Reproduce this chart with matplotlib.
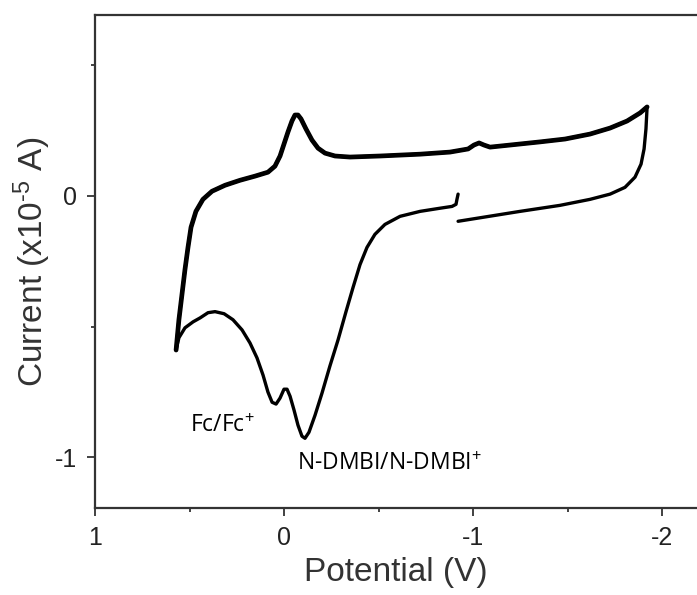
import matplotlib
matplotlib.use("Agg")
import matplotlib.pyplot as plt
from matplotlib.ticker import MultipleLocator

# Potential (V) and current (x1e-5 A)
# cathodic sweep (lower right), vertex, return sweep (upper), vertex, lower left branch
potential = [-0.921, -1.249, -1.460, -1.619, -1.725, -1.804, -1.857, -1.889, -1.905, -1.915, -1.921,
             -1.884, -1.815, -1.725, -1.619, -1.487, -1.354, -1.196, -1.090, -1.058, -1.032,
             -1.005, -0.974, -0.878, -0.720, -0.508, -0.349, -0.270, -0.217, -0.180, -0.148,
             -0.116, -0.090, -0.074, -0.058, -0.042, -0.021, 0.000, 0.021, 0.048, 0.085,
             0.153, 0.233, 0.312, 0.381, 0.429, 0.466, 0.492, 0.508, 0.524, 0.540, 0.556,
             0.566, 0.571,
             0.556, 0.524, 0.481, 0.444, 0.402, 0.365, 0.317, 0.270, 0.222, 0.180, 0.143,
             0.111, 0.085, 0.063, 0.042, 0.021, 0.000, -0.016, -0.032, -0.053, -0.074,
             -0.095, -0.111, -0.132, -0.164, -0.201, -0.243, -0.286, -0.328, -0.365, -0.402,
             -0.439, -0.481, -0.534, -0.614, -0.720, -0.825, -0.889, -0.910, -0.915, -0.921]
current = [-0.097, -0.059, -0.036, -0.013, 0.007, 0.033, 0.072, 0.122, 0.180, 0.257, 0.341,
           0.318, 0.287, 0.260, 0.237, 0.218, 0.207, 0.195, 0.187, 0.195, 0.203,
           0.195, 0.180, 0.168, 0.160, 0.153, 0.149, 0.153, 0.164, 0.183, 0.214,
           0.257, 0.295, 0.310, 0.310, 0.287, 0.245, 0.199, 0.153, 0.114, 0.091,
           0.076, 0.060, 0.041, 0.018, -0.013, -0.059, -0.120, -0.197, -0.282, -0.378, -0.474,
           -0.551, -0.590,
           -0.543, -0.505, -0.482, -0.467, -0.447, -0.443, -0.451, -0.474, -0.513, -0.563, -0.620,
           -0.686, -0.751, -0.790, -0.797, -0.774, -0.740, -0.740, -0.767, -0.820, -0.878,
           -0.920, -0.928, -0.905, -0.840, -0.755, -0.651, -0.551, -0.443, -0.351, -0.263,
           -0.197, -0.147, -0.109, -0.078, -0.059, -0.047, -0.040, -0.032, -0.013, 0.007]

x_ticks = [1, 0, -1, -2]
x_ticklabels = ["1", "0", "-1", "-2"]
y_ticks = [0, -1]
y_ticklabels = ["0", "-1"]

labels = ["Fc/Fc$^{+}$", "N-DMBI/N-DMBI$^{+}$"]
label_pos = [(0.497, -0.882), (-0.069, -1.028)]

plt.rcParams['font.family'] = ['Liberation Sans', 'DejaVu Sans']
plt.rcParams['mathtext.fontset'] = 'custom'
plt.rcParams['mathtext.rm'] = 'Liberation Sans'
plt.rcParams['mathtext.it'] = 'Liberation Sans'

fig = plt.figure(figsize=(6.97, 5.95), dpi=100)
ax = fig.add_axes([0.1363, 0.1462, 1.0 - 0.1363, 0.9748 - 0.1462])

ax.plot(potential, current, color='black', lw=2.4, solid_joinstyle='round',
        solid_capstyle='round')
# the return sweep overlaps several cycles and looks heavier
ax.plot(potential[10:54], current[10:54], color='black', lw=3.4,
        solid_joinstyle='round', solid_capstyle='round')

ax.set_xlim(1, -2.185)
ax.set_ylim(-1.195, 0.693)

ax.set_xticks(x_ticks)
ax.set_xticklabels(x_ticklabels)
ax.set_yticks(y_ticks)
ax.set_yticklabels(y_ticklabels)
ax.xaxis.set_minor_locator(MultipleLocator(0.5))
ax.yaxis.set_minor_locator(MultipleLocator(0.5))

ax.tick_params(which='major', direction='out', length=6, width=1.3, labelsize=18, pad=7,
               colors='#333333', labelcolor='#222222')
ax.tick_params(which='minor', direction='out', length=3, width=1.3, colors='#333333')
ax.tick_params(top=False, right=False, which='both')

for side in ['left', 'bottom', 'top']:
    ax.spines[side].set_linewidth(1.6)
    ax.spines[side].set_color('#333333')
ax.spines['right'].set_visible(False)

ax.set_xlabel('Potential (V)', fontsize=24, color='#333333', labelpad=5)
ax.set_ylabel(r'Current (x10$^{\text{-}5}$ A)', fontsize=24, color='#333333', labelpad=1)

for lab, (lx, ly) in zip(labels, label_pos):
    ax.text(lx, ly, lab, fontsize=16.5, family=['Open Sans', 'DejaVu Sans'],
            ha='left', va='center', color='black')

fig.savefig('out.png', dpi=100)
